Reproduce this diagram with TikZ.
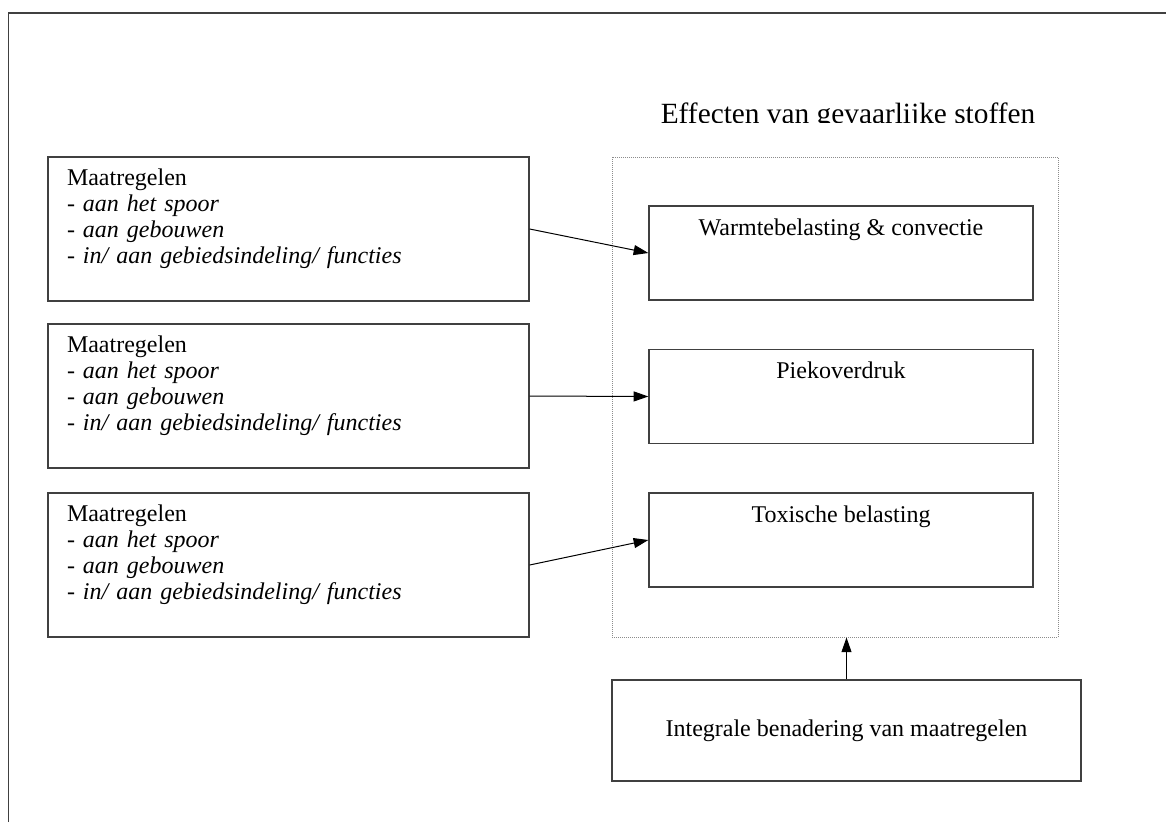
\documentclass[tikz,border=0pt]{standalone}
\usepackage{fontspec}
\setmainfont{Liberation Serif}
\usetikzlibrary{arrows.meta}

\begin{document}
\begin{tikzpicture}[x=0.75pt,y=-0.75pt,
  font=\fontsize{18}{19.5}\selectfont,
  box/.style={draw=black!75,line width=1pt},
  maatbox/.style={box,align=left,text width=332.25pt,inner xsep=14.25pt,minimum height=108pt},
  effbox/.style={box,align=center,minimum width=288pt,minimum height=70.5pt},
  pijl/.style={-{Triangle[length=11pt,width=7.5pt]},line width=0.75pt}]
\useasboundingbox (0,0) rectangle (1166,822);
% kader
\draw[black!75,line width=1.3pt] (8.5,822) -- (8.5,13.3) -- (1166,13.3);
% titel
\begin{scope}
\clip (600,80) rectangle (1100,122);
\node[anchor=base,font=\fontsize{22}{26}\selectfont] (titel) at (848,123) {Effecten van gevaarlijke stoffen};
\end{scope}
\node[draw=black!45,line width=0.75pt,dash pattern=on 0.75pt off 0.75pt,minimum width=334.5pt,minimum height=360pt] (eff) at (835,397) {};
\node[maatbox] (m1) at (288.5,229) {Maatregelen\\ \textit{- aan het spoor}\\ \textit{- aan gebouwen}\\ \textit{- in/ aan gebiedsindeling/ functies}\\ \mbox{}};
\node[maatbox] (m2) at (288.5,396) {Maatregelen\\ \textit{- aan het spoor}\\ \textit{- aan gebouwen}\\ \textit{- in/ aan gebiedsindeling/ functies}\\ \mbox{}};
\node[maatbox] (m3) at (288.5,565) {Maatregelen\\ \textit{- aan het spoor}\\ \textit{- aan gebouwen}\\ \textit{- in/ aan gebiedsindeling/ functies}\\ \mbox{}};
\node[effbox] (warmte) at (841,253) {Warmtebelasting \& convectie\\ \mbox{}\\ \mbox{}};
\node[effbox] (piek) at (841,396.5) {Piekoverdruk\\ \mbox{}\\ \mbox{}};
\node[effbox] (toxisch) at (841,540) {Toxische belasting\\ \mbox{}\\ \mbox{}};
\node[box,minimum width=351.75pt,minimum height=75.75pt] (integraal) at (846.5,730.5) {Integrale benadering van maatregelen};
\draw[pijl] (m1.east) -- (warmte.west);
\draw[pijl] (m2.east) -- (piek.west);
\draw[pijl] (m3.east) -- (toxisch.west);
\draw[pijl] (integraal.north) -- (integraal.north |- eff.south);
\end{tikzpicture}
\end{document}
